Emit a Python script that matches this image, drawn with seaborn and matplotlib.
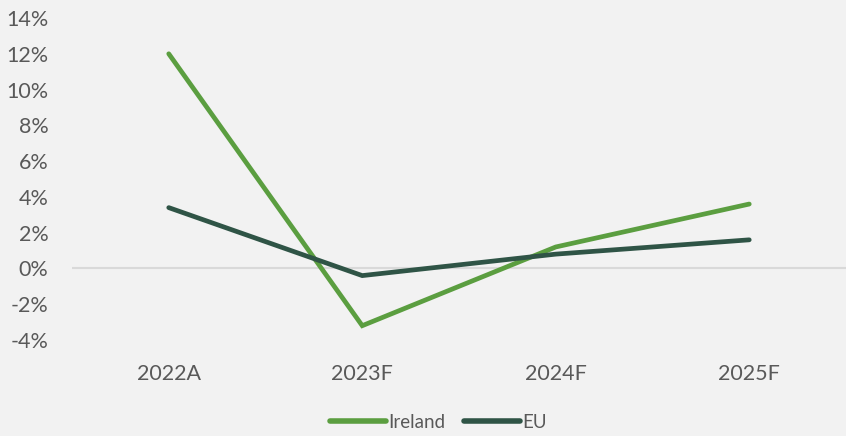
import matplotlib
matplotlib.use("Agg")
import matplotlib.pyplot as plt
import pandas as pd
import seaborn as sns
from matplotlib.ticker import FuncFormatter

years = ["2022A", "2023F", "2024F", "2025F"]
ireland = [12.0, -3.2, 1.2, 3.6]
eu = [3.4, -0.4, 0.8, 1.6]

df = pd.DataFrame({
    "year": years * 2,
    "growth": ireland + eu,
    "series": ["Ireland"] * len(years) + ["EU"] * len(years),
})

sns.set_style("white")
plt.rcParams["font.family"] = ["Lato", "DejaVu Sans"]

bg = "#f2f2f2"
text_col = "#595959"
palette = {"Ireland": "#5b9e40", "EU": "#2f5446"}

fig = plt.figure(figsize=(8.46, 4.36), dpi=100, facecolor=bg)
ax = fig.add_axes([72 / 846, 1 - 340 / 436, 1 - 72 / 846, (340 - 18) / 436])
ax.set_facecolor(bg)

ax.axhline(0, color="#d9d9d9", linewidth=1.5, zorder=1)
sns.lineplot(data=df, x="year", y="growth", hue="series", palette=palette,
             linewidth=3.4, sort=False, ax=ax, zorder=3)
for line in ax.get_lines():
    line.set_solid_capstyle("round")
    line.set_solid_joinstyle("miter")

ax.set_xlim(-0.5, 3.5)
ax.set_ylim(-4, 14)
ax.set_yticks(range(-4, 15, 2))
ax.yaxis.set_major_formatter(FuncFormatter(lambda v, _: f"{v:.0f}%"))
ax.tick_params(axis="both", length=0, labelsize=15.5, colors=text_col)
ax.tick_params(axis="x", pad=17)
ax.tick_params(axis="y", pad=17)
ax.set_xlabel("")
ax.set_ylabel("")
for s in ax.spines.values():
    s.set_visible(False)

leg = ax.legend(loc="center", bbox_to_anchor=(0.4735, -0.255), ncol=2,
                frameon=False, fontsize=13.5, handlelength=3.0,
                handletextpad=0.1, columnspacing=1.0, labelcolor=text_col)
for h in leg.get_lines():
    h.set_linewidth(4)
    h.set_solid_capstyle("round")

fig.savefig("out.png", dpi=100, facecolor=bg)
